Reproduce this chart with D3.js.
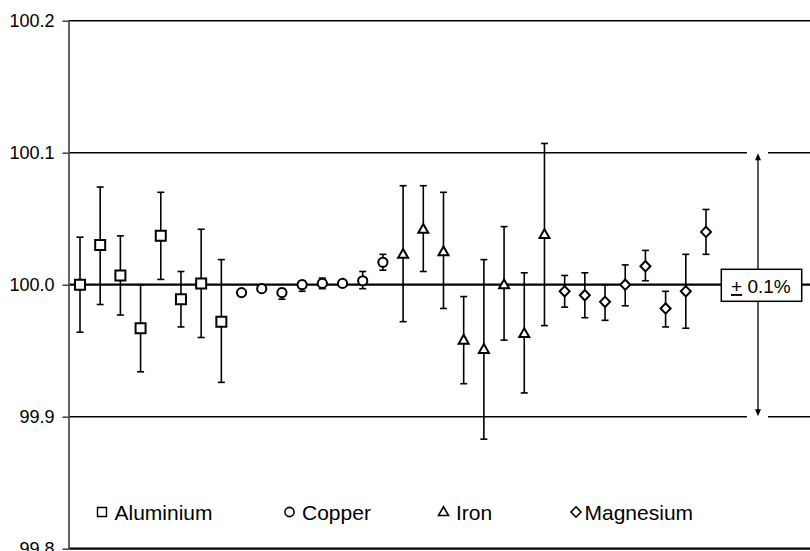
<!DOCTYPE html>
<html>
<head>
<meta charset="utf-8">
<script src="https://cdn.jsdelivr.net/npm/d3@7"></script>
<style>
  body { margin: 0; background: #fff; }
  svg { display: block; font-family: Arial, "Liberation Sans", sans-serif; }
</style>
</head>
<body>
<div id="container"></div>
<script>
// metals, in plotting order
var metals = ['Aluminium', 'Copper', 'Iron', 'Magnesium'];
var shapes = ['square', 'circle', 'triangle', 'diamond'];

// measured value, upper and lower limit of the error bar (%)
var alMean = [100.000, 100.030, 100.007, 99.967, 100.037, 99.989, 100.001, 99.972],
    alHi   = [100.036, 100.074, 100.037, 100.000, 100.070, 100.010, 100.042, 100.019],
    alLo   = [99.964, 99.985, 99.977, 99.934, 100.004, 99.968, 99.960, 99.926];

var cuMean = [99.994, 99.997, 99.994, 100.000, 100.001, 100.001, 100.003, 100.017],
    cuHi   = [99.995, 99.998, 99.997, 100.003, 100.005, 100.001, 100.010, 100.023],
    cuLo   = [99.993, 99.996, 99.989, 99.995, 99.997, 100.001, 99.997, 100.011];

var feMean = [100.023, 100.042, 100.025, 99.958, 99.951, 100.000, 99.963, 100.038],
    feHi   = [100.075, 100.075, 100.070, 99.991, 100.019, 100.044, 100.009, 100.107],
    feLo   = [99.972, 100.010, 99.982, 99.925, 99.883, 99.958, 99.918, 99.969];

var mgMean = [99.995, 99.992, 99.987, 100.000, 100.014, 99.982, 99.995, 100.040],
    mgHi   = [100.007, 100.009, 100.000, 100.015, 100.026, 99.995, 100.023, 100.057],
    mgLo   = [99.983, 99.975, 99.973, 99.984, 100.003, 99.968, 99.967, 100.023];

var yTicks = [99.8, 99.9, 100.0, 100.1, 100.2];
var bandLabel = '0.1%';

var w = 810, h = 551;

var svg = d3.select('#container').append('svg')
    .attr('width', w)
    .attr('height', h);

/* scales */
var xScale = d3.scaleLinear().domain([1, 32]).range([80, 706]);
var yScale = d3.scaleLinear().domain([99.8, 100.2]).range([548.7, 20.7]);
var axisX = 68.5;

// flatten into one list of points
var series = [[alMean, alHi, alLo], [cuMean, cuHi, cuLo], [feMean, feHi, feLo], [mgMean, mgHi, mgLo]];
var points = [];
series.forEach(function (s, k) {
  s[0].forEach(function (v, i) {
    points.push({idx: points.length + 1, v: v, hi: s[1][i], lo: s[2][i], shape: shapes[k]});
  });
});

/* gridlines */
svg.append('g').selectAll('line').data(yTicks).enter().append('line')
    .attr('x1', axisX).attr('x2', w)
    .attr('y1', d => yScale(d)).attr('y2', d => yScale(d))
    .attr('stroke', '#000')
    .attr('stroke-width', d => (d === 100.0 || d === 99.8) ? 2.3 : 1.6);

/* y axis */
var yAxis = d3.axisLeft(yScale).tickValues(yTicks).tickFormat(d3.format('.1f'))
    .tickSize(6).tickPadding(8).tickSizeOuter(0);
var ax = svg.append('g')
    .attr('transform', 'translate(' + axisX + ',0)')
    .call(yAxis);
ax.select('.domain').attr('stroke', '#555').attr('stroke-width', 1.8);
ax.selectAll('.tick line').attr('stroke', '#333').attr('stroke-width', 1.4);
ax.selectAll('.tick text').attr('font-size', 18).attr('fill', '#000')
    .attr('font-family', 'Arial, "Liberation Sans", sans-serif');

/* error bars */
var eb = svg.append('g').attr('stroke', '#000').attr('stroke-width', 1.6);
eb.selectAll('.bar').data(points).enter().append('line')
    .attr('x1', d => xScale(d.idx)).attr('x2', d => xScale(d.idx))
    .attr('y1', d => yScale(d.hi)).attr('y2', d => yScale(d.lo));
eb.selectAll('.capHi').data(points).enter().append('line')
    .attr('x1', d => xScale(d.idx) - 3.5).attr('x2', d => xScale(d.idx) + 3.5)
    .attr('y1', d => yScale(d.hi)).attr('y2', d => yScale(d.hi));
eb.selectAll('.capLo').data(points).enter().append('line')
    .attr('x1', d => xScale(d.idx) - 3.5).attr('x2', d => xScale(d.idx) + 3.5)
    .attr('y1', d => yScale(d.lo)).attr('y2', d => yScale(d.lo));

/* marker shapes */
function circlePath(r) {
  var p = d3.path();
  p.arc(0, 0, r, 0, 2 * Math.PI);
  p.closePath();
  return p.toString();
}
function markerPath(shape) {
  if (shape === 'square') return 'M-5,-5H5V5H-5Z';
  if (shape === 'circle') return circlePath(4.6);
  if (shape === 'triangle') return 'M0,-5.3L5,3.5H-5Z';
  return 'M0,-5.2L5,0L0,5.2L-5,0Z';
}

svg.append('g').selectAll('path').data(points).enter().append('path')
    .attr('transform', d => 'translate(' + xScale(d.idx) + ',' + yScale(d.v) + ')')
    .attr('d', d => markerPath(d.shape))
    .attr('fill', '#fff').attr('stroke', '#000').attr('stroke-width', 2);

/* ±0.1% band annotation */
var arrowX = 758;
var note = svg.append('g');
[100.1, 99.9].forEach(function (v) {
  note.append('rect')
      .attr('x', 747).attr('y', yScale(v) - 2.5)
      .attr('width', 21).attr('height', 5)
      .attr('fill', '#fff');
});
note.append('line')
    .attr('x1', arrowX).attr('x2', arrowX)
    .attr('y1', yScale(100.1) + 4).attr('y2', yScale(99.9) - 4)
    .attr('stroke', '#000').attr('stroke-width', 1.3);
note.append('path')
    .attr('d', 'M' + arrowX + ',' + (yScale(100.1) + 0.5) + 'l-3,7h6z')
    .attr('fill', '#000');
note.append('path')
    .attr('d', 'M' + arrowX + ',' + (yScale(99.9) - 0.5) + 'l-3,-7h6z')
    .attr('fill', '#000');
note.append('rect')
    .attr('x', 721.3).attr('y', 269.3).attr('width', 80.4).attr('height', 32)
    .attr('fill', '#fff').attr('stroke', '#000').attr('stroke-width', 1.5);
var nt = note.append('text')
    .attr('x', 731).attr('y', 293)
    .attr('font-size', 19).attr('fill', '#000');
nt.append('tspan').attr('text-decoration', 'underline').text('+');
nt.append('tspan').text(' ' + bandLabel);

/* legend */
var legendX = [102, 289.5, 443.5, 576];
var lg = svg.append('g').selectAll('g').data(metals).enter().append('g')
    .attr('transform', (d, i) => 'translate(' + legendX[i] + ',512)');
lg.append('path')
    .attr('d', (d, i) => markerPath(shapes[i]))
    .attr('transform', (d, i) => i === 0 ? 'scale(0.9)' : null)
    .attr('fill', '#fff').attr('stroke', '#000').attr('stroke-width', 1.6);
lg.append('text')
    .attr('x', (d, i) => i === 3 ? 8.5 : 12.5).attr('y', 7.5)
    .attr('font-size', 21).attr('fill', '#000')
    .text(d => d);
</script>
</body>
</html>
